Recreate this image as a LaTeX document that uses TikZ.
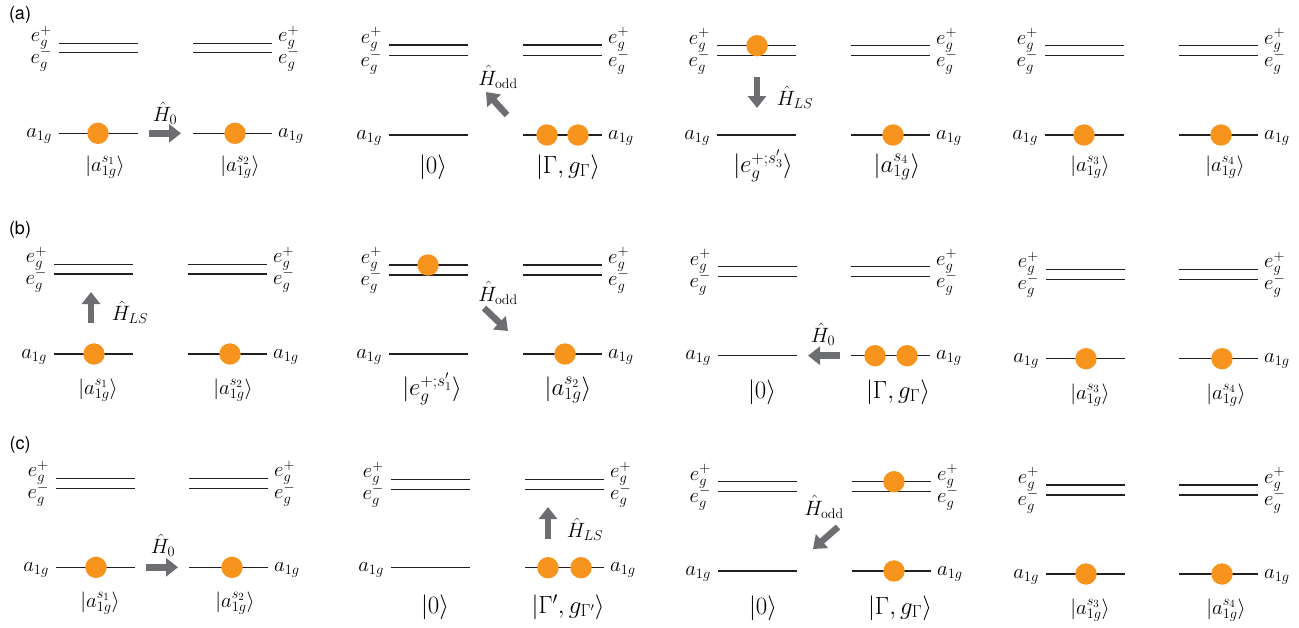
\documentclass[tikz,border=0pt]{standalone}
\usepackage{fontspec}
\newfontfamily\panelfont{TeX Gyre Heros}
\usetikzlibrary{arrows.meta}

\definecolor{lvlink}{HTML}{231F20}
\definecolor{hopgray}{HTML}{6D6E71}
\definecolor{elecorange}{HTML}{F7941D}

\tikzset{
  lvl/.style={draw=lvlink, line width=1.5pt},
  lvlab/.style={inner sep=0pt, font=\fontsize{21}{25}\selectfont},
  ket/.style={inner sep=0pt, anchor=center, font=\fontsize{21}{25}\selectfont},
  bigket/.style={ket, font=\fontsize{24}{28}\selectfont},
  hop/.style={draw=hopgray, line width=6.5pt, -{Triangle[length=12pt,width=18pt]}},
  hoplab/.style={inner sep=0pt, anchor=center, font=\fontsize{20}{24}\selectfont},
  panel/.style={inner sep=0pt, anchor=center, font=\panelfont\fontsize{18}{22}\selectfont},
}

%% 一组左右两套能级：#1 名字前缀  #2 左套起点x  #3 右套起点x  #4 e_g^+ 线y  #5 e_g^- 线y  #6 a_1g 线y
\newcommand\levelpair[6]{%
  \draw[lvl] (#2,#4) -- ++(79,0) (#2,#5) -- ++(79,0) (#2,#6) -- ++(79,0);
  \draw[lvl] (#3,#4) -- ++(79,0) (#3,#5) -- ++(79,0) (#3,#6) -- ++(79,0);
  \node[lvlab,anchor=base east] (#1-Lep) at (#2-7,#4-1.5) {$e_g^+$};
  \node[lvlab,anchor=base east] (#1-Lem) at (#2-7,#5+10.5) {$e_g^-$};
  \node[lvlab,anchor=base east] (#1-La)  at (#2-7,#6+4)    {$a_{1g}$};
  \node[lvlab,anchor=base west] (#1-Rep) at (#3+85,#4-1.5) {$e_g^+$};
  \node[lvlab,anchor=base west] (#1-Rem) at (#3+85,#5+10.5) {$e_g^-$};
  \node[lvlab,anchor=base west] (#1-Ra)  at (#3+85,#6+4)    {$a_{1g}$};
}

\begin{document}
\begin{tikzpicture}[x=1pt, y=-1pt, line cap=butt]

  %% ════ 面板标号 ════
  \node[panel] (pa) at (20,15)  {(a)};
  \node[panel] (pb) at (20,230) {(b)};
  \node[panel] (pc) at (20,445) {(c)};

  %% ════ 能级（12 组）════
  \levelpair{a1}{59}{193}{43.3}{52.7}{133.3}
  \levelpair{a2}{389}{523}{45}{55.7}{135}
  \levelpair{a3}{717}{851}{45.7}{55.7}{135}
  \levelpair{a4}{1045}{1179}{45.7}{55.7}{135}
  \levelpair{b1}{54}{188}{264.3}{274}{354}
  \levelpair{b2}{389}{523}{265}{275}{354}
  \levelpair{b3}{718}{851}{266.7}{276.7}{355.7}
  \levelpair{b4}{1046}{1179}{269.3}{279.3}{358.7}
  \levelpair{c1}{56}{189}{478.3}{488.3}{567.3}
  \levelpair{c2}{391}{525}{479.3}{489.3}{567.7}
  \levelpair{c3}{718}{852}{481.7}{491.7}{571}
  \levelpair{c4}{1046}{1179}{485}{495}{574}

  %% ════ 电子 ════
  \fill[elecorange] (98,133.3) circle (10.7);
  \fill[elecorange] (235,133.3) circle (10.7);
  \fill[elecorange] (547,135) circle (10.7);
  \fill[elecorange] (578,135) circle (10.7);
  \fill[elecorange] (757,45.7) circle (10.7);
  \fill[elecorange] (893,135) circle (10.7);
  \fill[elecorange] (1084,135) circle (10.7);
  \fill[elecorange] (1221,135) circle (10.7);

  \fill[elecorange] (94,354) circle (10.7);
  \fill[elecorange] (230,354) circle (10.7);
  \fill[elecorange] (428,265) circle (10.7);
  \fill[elecorange] (565,354) circle (10.7);
  \fill[elecorange] (875,355.7) circle (10.7);
  \fill[elecorange] (907,355.7) circle (10.7);
  \fill[elecorange] (1086,358.7) circle (10.7);
  \fill[elecorange] (1222,358.7) circle (10.7);

  \fill[elecorange] (96,567.3) circle (10.7);
  \fill[elecorange] (232,567.3) circle (10.7);
  \fill[elecorange] (548,567.7) circle (10.7);
  \fill[elecorange] (581,567.7) circle (10.7);
  \fill[elecorange] (894,481.7) circle (10.7);
  \fill[elecorange] (894,571) circle (10.7);
  \fill[elecorange] (1086,574) circle (10.7);
  \fill[elecorange] (1222,574) circle (10.7);

  %% ════ 跃迁箭头（端点先钉成坐标）════
  \coordinate (a1s) at (149,133.3);   \coordinate (a1e) at (181,133.3);
  \coordinate (a2s) at (507,115);     \coordinate (a2e) at (486,92);
  \coordinate (a3s) at (757,77);      \coordinate (a3e) at (757,108);
  \coordinate (b1s) at (91,323);      \coordinate (b1e) at (91,292);
  \coordinate (b2s) at (484,308);     \coordinate (b2e) at (508,331);
  \coordinate (b3s) at (840,355.7);   \coordinate (b3e) at (808,355.7);
  \coordinate (c1s) at (146,567.3);   \coordinate (c1e) at (178,567.3);
  \coordinate (c2s) at (548,539);     \coordinate (c2e) at (548,507);
  \coordinate (c3s) at (838,527);     \coordinate (c3e) at (813,549);

  \draw[hop] (a1s) -- (a1e);
  \draw[hop] (a2s) -- (a2e);
  \draw[hop] (a3s) -- (a3e);
  \draw[hop] (b1s) -- (b1e);
  \draw[hop] (b2s) -- (b2e);
  \draw[hop] (b3s) -- (b3e);
  \draw[hop] (c1s) -- (c1e);
  \draw[hop] (c2s) -- (c2e);
  \draw[hop] (c3s) -- (c3e);

  \node[hoplab] (a1h) at (165,113) {$\hat H_0$};
  \node[hoplab] (a2h) at (498,77)  {$\hat H_{\mathrm{odd}}$};
  \node[hoplab] (a3h) at (795,97)  {$\hat H_{LS}$};
  \node[hoplab] (b1h) at (130,312) {$\hat H_{LS}$};
  \node[hoplab] (b2h) at (498,293) {$\hat H_{\mathrm{odd}}$};
  \node[hoplab] (b3h) at (823,334) {$\hat H_0$};
  \node[hoplab] (c1h) at (163,545) {$\hat H_0$};
  \node[hoplab] (c2h) at (585,529) {$\hat H_{LS}$};
  \node[hoplab] (c3h) at (824,507) {$\hat H_{\mathrm{odd}}$};

  %% ════ 态矢 ════
  \node[ket]    (a1k1) at (105,167)  {$|a_{1g}^{s_1}\rangle$};
  \node[ket]    (a1k2) at (240,167)  {$|a_{1g}^{s_2}\rangle$};
  \node[bigket] (a2k1) at (433,167)  {$|0\rangle$};
  \node[bigket] (a2k2) at (568,167)  {$|\Gamma,g_\Gamma\rangle$};
  \node[bigket] (a3k1) at (763,166)  {$|e_g^{+;s_3'}\rangle$};
  \node[bigket] (a3k2) at (897,167)  {$|a_{1g}^{s_4}\rangle$};
  \node[ket]    (a4k1) at (1090,167) {$|a_{1g}^{s_3}\rangle$};
  \node[ket]    (a4k2) at (1225,167) {$|a_{1g}^{s_4}\rangle$};

  \node[ket]    (b1k1) at (98,390)   {$|a_{1g}^{s_1}\rangle$};
  \node[ket]    (b1k2) at (233,390)  {$|a_{1g}^{s_2}\rangle$};
  \node[bigket] (b2k1) at (432,389)  {$|e_g^{+;s_1'}\rangle$};
  \node[bigket] (b2k2) at (568,390)  {$|a_{1g}^{s_2}\rangle$};
  \node[bigket] (b3k1) at (762,392)  {$|0\rangle$};
  \node[bigket] (b3k2) at (898,392)  {$|\Gamma,g_\Gamma\rangle$};
  \node[ket]    (b4k1) at (1090,395) {$|a_{1g}^{s_3}\rangle$};
  \node[ket]    (b4k2) at (1226,395) {$|a_{1g}^{s_4}\rangle$};

  \node[ket]    (c1k1) at (100,603)  {$|a_{1g}^{s_1}\rangle$};
  \node[ket]    (c1k2) at (235,603)  {$|a_{1g}^{s_2}\rangle$};
  \node[bigket] (c2k1) at (435,607)  {$|0\rangle$};
  \node[bigket] (c2k2) at (568,607)  {$|\Gamma',g_{\Gamma'}\rangle$};
  \node[bigket] (c3k1) at (763,608)  {$|0\rangle$};
  \node[bigket] (c3k2) at (900,608)  {$|\Gamma,g_\Gamma\rangle$};
  \node[ket]    (c4k1) at (1090,610) {$|a_{1g}^{s_3}\rangle$};
  \node[ket]    (c4k2) at (1226,610) {$|a_{1g}^{s_4}\rangle$};

  % 钉死画布
  \pgfresetboundingbox
  \path[use as bounding box] (0,0) rectangle (1299,627);
\end{tikzpicture}
\end{document}
